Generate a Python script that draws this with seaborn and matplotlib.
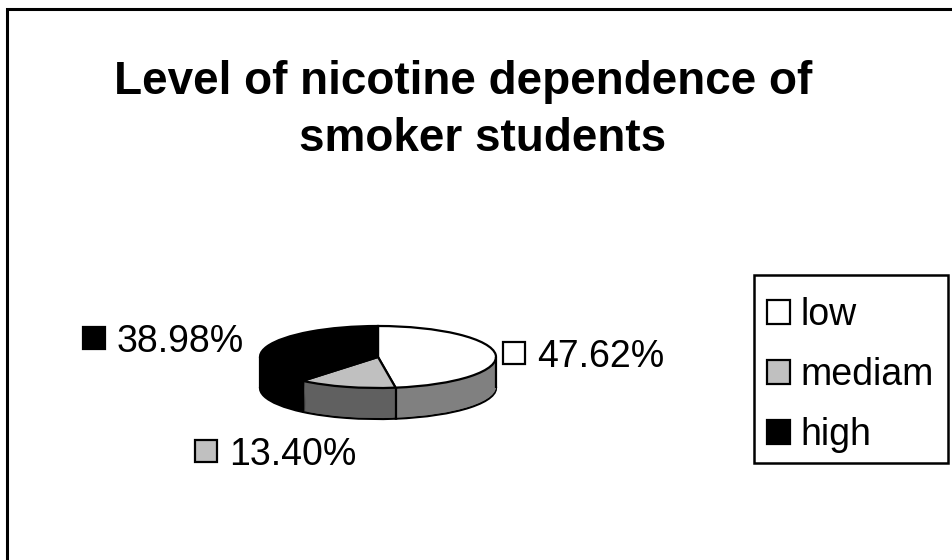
import numpy as np
import matplotlib
matplotlib.use("Agg")
import matplotlib.pyplot as plt
from matplotlib.patches import Rectangle
import seaborn as sns

# data
levels = ["low", "mediam", "high"]
shares = [47.62, 13.40, 38.98]
top_colors = ["#ffffff", "#c0c0c0", "#000000"]
side_colors = ["#808080", "#606060", "#000000"]

sns.set_style("white")
plt.rcParams["font.family"] = ["Liberation Sans", "DejaVu Sans"]
plt.rcParams["text.color"] = "black"

W, H = 952, 560
fig = plt.figure(figsize=(W / 100, H / 100), dpi=100)

# overlay axes in pixel coordinates (y from top)
ax0 = fig.add_axes([0, 0, 1, 1])
ax0.set_xlim(0, W)
ax0.set_ylim(H, 0)
ax0.axis("off")

# outer chart frame (only left and top edges visible)
ax0.plot([6.5, 6.5, W + 10], [H + 10, 9, 9], color="black", lw=2.2,
         clip_on=False, solid_joinstyle="miter")

# title
ax0.text(463, 94, "Level of nicotine dependence of", ha="center", va="baseline",
         fontsize=33, fontweight="bold")
ax0.text(483, 151, "smoker students", ha="center", va="baseline",
         fontsize=33, fontweight="bold")

# pie axes: x unit = 118 px, y unit = 31 px (tilted look)
cx, cy, a, b = 378, 357, 118, 31
depth = 1.0
x0, x1 = -1.08, 1.08
y0, y1 = -depth - 1.1, 1.1
left = cx + x0 * a
top = cy - y1 * b
width = (x1 - x0) * a
height = (y1 - y0) * b
ax = fig.add_axes([left / W, 1 - (top + height) / H, width / W, height / H])

# side wall: stacked copies of the pie, shifted down; the lowest one outlined
n = 32
ax.pie(shares, colors=side_colors, startangle=90, counterclock=False,
       center=(0, -depth), wedgeprops=dict(linewidth=1.6, edgecolor="black"))
for k in range(n - 1, 0, -1):
    ax.pie(shares, colors=side_colors, startangle=90, counterclock=False,
           center=(0, -depth * k / n), wedgeprops=dict(linewidth=0))

# vertical edges on the front of the wall
bounds = 90 - 360 * np.cumsum([0] + shares) / sum(shares)
front = [t for t in bounds if np.sin(np.radians(t)) < 0]
edge_x = np.cos(np.radians(front))
edge_y = np.sin(np.radians(front))
ax.vlines(edge_x, edge_y - depth, edge_y, color="black", lw=1.6)
ax.vlines([-1, 1], -depth, 0, color="black", lw=1.6)

# top surface
wedges, _ = ax.pie(shares, colors=top_colors, startangle=90, counterclock=False,
                   wedgeprops=dict(linewidth=1.6, edgecolor="black"))
ax.set_aspect("auto")
ax.set_xlim(x0, x1)
ax.set_ylim(y0, y1)
ax.axis("off")

# data labels with colour keys
label_pos = [(503, 353), (195, 451), (83, 338)]
for (lx, ly), val, col in zip(label_pos, shares, top_colors):
    ax0.plot(lx + 11, ly, marker="s", markersize=15.5, markerfacecolor=col,
             markeredgecolor="black", markeredgewidth=1.6, linestyle="none")
    ax0.text(lx + 34, ly, f"{val:.2f}%", fontsize=27, va="center_baseline", ha="left")

# legend (frame drawn separately)
leg = ax0.legend(wedges, levels, loc="upper left", bbox_to_anchor=(767, 297),
                 bbox_transform=ax0.transData, borderaxespad=0, borderpad=0,
                 fontsize=27, frameon=False, handlelength=0.6, handleheight=0.6,
                 handletextpad=0.3, labelspacing=0.64, labelcolor="black")
for h in leg.legend_handles:
    h.set_linewidth(1.6)
ax0.add_patch(Rectangle((754, 275), 194, 188, fill=False, edgecolor="black", lw=1.8))

fig.savefig("out.png", dpi=100, facecolor="white")
